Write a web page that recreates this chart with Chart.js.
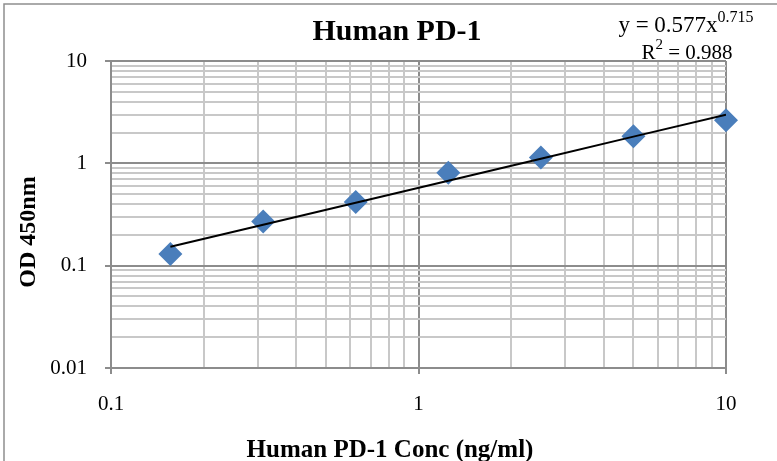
<!DOCTYPE html>
<html lang="en">
<head>
  <meta charset="UTF-8">
  <title>Human PD-1</title>
  <script src="https://cdn.jsdelivr.net/npm/chart.js@4.4.7/dist/chart.umd.min.js"></script>
  <style>
    * { margin: 0; padding: 0; box-sizing: border-box; }
    body { background: #fff; width: 777px; height: 461px; overflow: hidden; }
    canvas { display: block; }
  </style>
</head>
<body>
  <canvas id="stdCurve" width="777" height="461"></canvas>

  <script>
    // standard curve data
    const concentrations = [0.156, 0.3125, 0.625, 1.25, 2.5, 5, 10];
    const od450 = [0.13, 0.27, 0.42, 0.81, 1.14, 1.84, 2.64];

    // power trendline shown on the chart: y = a * x^b
    const fitA = 0.577;
    const fitB = 0.715;
    const fitR2 = 0.988;

    const xDecades = [0.1, 1, 10];
    const yDecades = [0.01, 0.1, 1, 10];
    const xTickLabels = ['0.1', '1', '10'];
    const yTickLabels = ['0.01', '0.1', '1', '10'];

    const titleText = 'Human PD-1';
    const xTitle = 'Human PD-1 Conc (ng/ml)';
    const yTitle = 'OD 450nm';

    const serif = "'Liberation Serif', 'DejaVu Serif', serif";
    Chart.defaults.font.family = serif;
    Chart.defaults.color = '#000';

    // 1..9 x each decade, last decade only its own power
    function logTicks(decades) {
      const out = [];
      decades.forEach((d, i) => {
        if (i === decades.length - 1) { out.push({ value: d }); return; }
        for (let m = 1; m <= 9; m++) out.push({ value: +(m * d).toPrecision(6) });
      });
      return out;
    }
    function isMajor(v) {
      const l = Math.log10(v);
      return Math.abs(l - Math.round(l)) < 1e-9;
    }
    function labelFor(v, decades, labels) {
      const i = decades.findIndex(d => Math.abs(d - v) < 1e-12);
      return i >= 0 ? labels[i] : '';
    }

    const points = concentrations.map((x, i) => ({ x: x, y: od450[i] }));
    const trend = concentrations.map(x => ({ x: x, y: fitA * Math.pow(x, fitB) }));

    const gridColor = ctx => isMajor(ctx.tick.value) ? '#8c8c8c' : '#c8c8c8';
    const tickColor = ctx => isMajor(ctx.tick.value) ? '#8c8c8c' : 'rgba(0,0,0,0)';

    const decor = {
      id: 'decor',
      beforeDraw(chart) {
        const c = chart.ctx;
        c.save();
        c.fillStyle = '#fff';
        c.fillRect(0, 0, chart.width, chart.height);
        c.strokeStyle = '#8f8f8f';
        c.lineWidth = 1.5;
        c.beginPath();
        c.moveTo(4, chart.height);
        c.lineTo(4, 4);
        c.lineTo(chart.width, 4);
        c.stroke();
        c.restore();
      },
      afterDraw(chart) {
        const c = chart.ctx;
        c.save();
        c.fillStyle = '#000';
        c.textBaseline = 'alphabetic';

        // title
        c.font = 'bold 30px ' + serif;
        c.textAlign = 'center';
        c.fillText(titleText, 397, 40);

        // axis titles
        c.font = 'bold 25px ' + serif;
        c.fillText(xTitle, 390, 457);
        c.save();
        c.translate(35, 232);
        c.rotate(-Math.PI / 2);
        c.font = 'bold 24px ' + serif;
        c.fillText(yTitle, 0, 0);
        c.restore();

        // equation with superscripts
        c.textAlign = 'left';
        function row(parts, cx, base, bigSize, supSize) {
          const big = bigSize + 'px ' + serif, sup = supSize + 'px ' + serif;
          let w = 0;
          parts.forEach(p => { c.font = p[1] ? sup : big; w += c.measureText(p[0]).width; });
          let x = cx - w / 2;
          parts.forEach(p => {
            c.font = p[1] ? sup : big;
            c.fillText(p[0], x, p[1] ? base - 10 : base);
            x += c.measureText(p[0]).width;
          });
        }
        row([['y = ' + fitA.toFixed(3) + 'x', false], [fitB.toFixed(3), true]], 686, 32, 23, 16);
        row([['R', false], ['2', true], [' = ' + fitR2.toFixed(3), false]], 687, 59, 21, 15);
        c.restore();
      }
    };

    new Chart(document.getElementById('stdCurve'), {
      type: 'scatter',
      data: {
        datasets: [
          {
            label: 'Power fit',
            data: trend,
            showLine: true,
            borderColor: '#000',
            borderWidth: 2,
            pointRadius: 0,
            order: 0,
          },
          {
            label: 'OD 450nm',
            data: points,
            backgroundColor: '#4a7ebb',
            borderColor: '#4a7ebb',
            borderWidth: 0,
            pointStyle: 'rectRot',
            pointRadius: 12,
            clip: false,
            order: 1,
          }
        ]
      },
      options: {
        responsive: false,
        animation: false,
        layout: { padding: { top: 61, right: 51, left: 0, bottom: 0 } },
        plugins: {
          legend: { display: false },
          tooltip: { enabled: false },
        },
        scales: {
          x: {
            type: 'logarithmic',
            position: 'bottom',
            min: 0.1,
            max: 10,
            afterBuildTicks: s => { s.ticks = logTicks(xDecades); },
            afterFit: s => { s.height = 93; },
            grid: { color: gridColor, lineWidth: 2, tickLength: 6, tickColor: tickColor, tickWidth: 2 },
            border: { color: '#8c8c8c', width: 2 },
            ticks: {
              autoSkip: false,
              maxRotation: 0,
              padding: 18,
              font: { size: 21 },
              callback: v => labelFor(v, xDecades, xTickLabels),
            },
          },
          y: {
            type: 'logarithmic',
            min: 0.01,
            max: 10,
            afterBuildTicks: s => { s.ticks = logTicks(yDecades); },
            afterFit: s => { s.width = 111; },
            grid: { color: gridColor, lineWidth: 2, tickLength: 6, tickColor: tickColor, tickWidth: 2 },
            border: { color: '#8c8c8c', width: 2 },
            ticks: {
              autoSkip: false,
              padding: 18,
              font: { size: 21 },
              callback: v => labelFor(v, yDecades, yTickLabels),
            },
          },
        },
      },
      plugins: [decor],
    });
  </script>
</body>
</html>
